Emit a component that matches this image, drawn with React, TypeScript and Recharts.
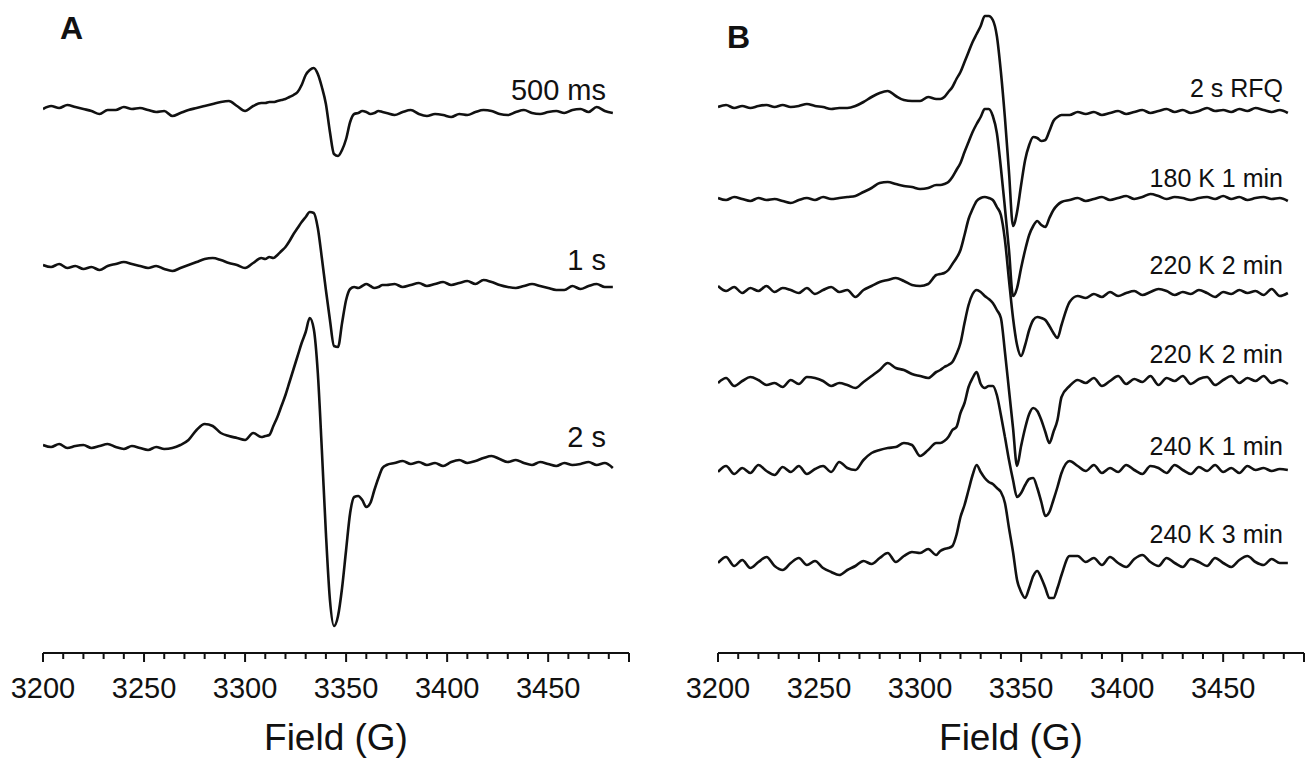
import React from "react";
import { LineChart, Line, XAxis, YAxis } from "recharts";

// field grid (G) shared by every spectrum: coarse on the wings, finer over the g~2 line
const field = [
  3200, 3204, 3208, 3212, 3216, 3220, 3224, 3228, 3232, 3236, 3240, 3244, 3248, 3252, 3256, 3260, 3264, 3268, 3272, 3276, 3280, 3284, 3288, 3292, 3296, 3300, 3304, 3308,
  3310, 3312, 3314, 3316, 3318, 3320, 3322, 3324, 3326, 3328, 3330, 3332, 3334, 3336, 3338, 3340, 3342, 3344, 3346, 3348, 3350, 3352, 3354, 3356, 3358, 3360, 3362, 3364, 3366, 3368, 3370,
  3374, 3378, 3382, 3386, 3390, 3394, 3398, 3402, 3406, 3410, 3414, 3418, 3422, 3426, 3430, 3434, 3438, 3442, 3446, 3450, 3454, 3458, 3462, 3466, 3470, 3474, 3478, 3482,
];

// panel A: RFQ quench times (derivative signal, arbitrary units)
const labelsA = ["500 ms", "1 s", "2 s"];
const specA500ms = [
  1, 4, 2, 5, 3, 1, -1, -4, 0, 0, 3, 1, 2, 0, -2, -1, -6, -3, 0, 2, 4, 6, 8, 9, 4, -1, 4, 7,
  7, 8, 8, 9, 10, 11, 13, 15, 18, 25, 35, 40, 42, 36, 23, 6, -22, -44, -46, -40, -29, -12, -4, -3, -1, -2, -4, -3, -1, -2, -3,
  -5, -2, 0, -4, -6, -4, -5, -7, -4, -5, -2, 0, -1, -4, -5, -2, 0, -3, -4, -2, -1, -3, 0, 1, -2, 3, -1, -3,
];
const specA1s = [
  1, -1, 2, -2, 0, -3, -1, -4, 0, 2, 4, 2, 0, -2, 0, -3, -5, -2, 1, 4, 7, 8, 6, 3, 1, -2, 3, 8,
  7, 9, 8, 11, 15, 19, 25, 32, 38, 44, 49, 54, 53, 38, 8, -24, -54, -80, -81, -57, -34, -23, -21, -22, -20, -18, -20, -22, -21, -19, -19,
  -18, -21, -19, -17, -20, -18, -16, -19, -17, -15, -18, -14, -16, -19, -21, -22, -20, -18, -20, -22, -24, -24, -20, -23, -20, -18, -21, -21,
];
const specA2s = [
  1, -1, 2, -2, 0, 1, -2, 0, 2, -1, -3, 0, -2, -4, -1, -3, -2, 1, 6, 16, 22, 20, 13, 10, 8, 6, 13, 9,
  10, 11, 20, 29, 40, 51, 64, 77, 90, 103, 114, 128, 117, 73, -4, -87, -154, -180, -170, -142, -104, -67, -51, -50, -54, -61, -57, -44, -32, -22, -19,
  -17, -15, -18, -16, -19, -17, -20, -16, -14, -17, -15, -12, -10, -13, -16, -14, -17, -19, -16, -18, -20, -17, -19, -18, -16, -19, -17, -22,
];
const offsetsA = [543, 387, 207];

// panel B: 2 s RFQ sample annealed
const labelsB = ["2 s RFQ", "180 K 1 min", "220 K 2 min", "220 K 2 min", "240 K 1 min", "240 K 3 min"];
const specB2sRfq = [
  0, 2, -1, 1, -1, 1, 2, 0, 2, 0, 1, 3, 1, 0, -2, -1, -1, 1, 5, 10, 14, 16, 11, 7, 6, 6, 10, 8,
  8, 10, 15, 20, 28, 35, 45, 55, 65, 73, 81, 91, 91, 87, 71, 35, -11, -65, -119, -105, -78, -53, -38, -30, -31, -34, -33, -24, -14, -10, -8,
  -8, -5, -7, -5, -8, -6, -4, -7, -5, -3, -6, -4, -2, -5, -3, -6, -4, -1, -4, -3, -5, -2, -4, -1, -3, -5, -3, -6,
];
const specB180K1 = [
  1, -1, 2, 0, -2, 1, -1, 0, -2, -4, -1, 1, -1, 2, 0, 1, 2, 3, 7, 11, 16, 17, 15, 13, 12, 10, 11, 14,
  14, 15, 17, 22, 29, 36, 47, 57, 67, 75, 82, 90, 90, 83, 66, 31, -9, -51, -97, -89, -69, -51, -36, -27, -22, -26, -28, -19, -11, -6, -3,
  -1, 1, -2, 0, 2, -1, 1, 3, 0, 2, 5, 3, 0, 2, 1, -1, 1, 2, 0, 3, 0, 2, -1, 1, 2, 0, 1, -2,
];
const specB220K2a = [
  3, -2, 2, -4, 1, -2, 3, -3, 1, -1, -4, 1, -5, -1, 2, -3, -1, -8, -1, 3, 7, 9, 11, 8, 4, 3, 5, 14,
  15, 16, 19, 25, 31, 39, 54, 70, 80, 88, 91, 92, 91, 89, 82, 74, 49, 9, -29, -56, -67, -56, -41, -31, -28, -29, -31, -37, -44, -49, -36,
  -13, -7, -9, -5, -8, -3, -7, -4, -2, -6, -3, 0, -2, -6, -3, -5, -1, -4, -8, -3, -5, -1, -4, -2, -6, 0, -7, -4,
];
const specB220K2b = [
  -1, 4, -4, 1, 5, 2, -3, -1, -5, 2, -2, 5, 4, 1, -4, -1, -3, -6, 0, 6, 12, 19, 14, 12, 8, 6, 4, 10,
  12, 15, 17, 20, 28, 39, 59, 77, 88, 92, 90, 86, 83, 79, 72, 64, 30, -8, -46, -84, -64, -46, -32, -26, -29, -38, -50, -61, -50, -38, -15,
  -4, 2, -1, 4, -4, 1, 6, -2, 3, 0, 6, -3, 4, 1, 6, -2, 3, 5, -3, 2, 6, -1, 4, 1, 6, -1, 2, -2,
];
const specB240K1 = [
  -2, 4, -4, 2, -3, 5, -1, -5, 3, -2, 4, -4, 1, 4, -2, 8, 2, 0, 10, 17, 20, 22, 23, 27, 25, 14, 20, 27,
  27, 29, 33, 40, 43, 57, 67, 83, 92, 98, 86, 82, 84, 84, 75, 55, 33, 10, -10, -27, -23, -15, -9, -8, -18, -32, -46, -42, -30, -17, -3,
  9, 4, -1, 5, -3, 2, -2, 5, 0, -4, 4, 2, -3, 5, 0, -4, 3, -1, 5, -2, 2, -3, 4, 0, 2, -1, 1, 0,
];
const specB240K3 = [
  0, 6, -3, 3, -5, 1, 6, -3, -7, 0, 5, -2, 2, -5, -9, -12, -7, -3, 2, -1, 5, 10, 1, 7, 11, 10, 14, 8,
  12, 14, 15, 17, 28, 46, 58, 73, 88, 98, 91, 85, 81, 79, 75, 71, 60, 35, 11, -17, -29, -35, -25, -13, -8, -15, -25, -35, -35, -25, -12,
  7, 7, 1, 5, -2, 6, 0, -4, 4, 8, 1, -3, 5, 0, -4, 4, 1, -3, 5, 0, -4, 3, 7, 1, -2, 4, 0, 0,
];
const offsetsB = [546, 454, 364, 271, 183, 90];

// axis
const fieldTicks = [
  3200, 3210, 3220, 3230, 3240, 3250, 3260, 3270, 3280, 3290, 3300, 3310, 3320, 3330, 3340,
  3350, 3360, 3370, 3380, 3390, 3400, 3410, 3420, 3430, 3440, 3450, 3460, 3470, 3480, 3490,
];
const fieldTickLabels = [3200, 3250, 3300, 3350, 3400, 3450];

const FONT = "'Liberation Sans', Arial, Helvetica, sans-serif";
const INK = "#111";
const H = 758;
const AXIS_H = 105;
const Y_MAX = H - AXIS_H; // 1 unit per px in the plot

function buildRows(series: number[][], offsets: number[]) {
  return field.map((f, i) => {
    const row: Record<string, number> = { field: f };
    series.forEach((s, k) => {
      row["s" + k] = offsets[k] + s[i];
    });
    return row;
  });
}

function FieldTick(props: any) {
  const { x, y, payload } = props;
  const v = payload.value as number;
  const major = v % 50 === 0 || v === 3490;
  return (
    <g>
      <line x1={x} y1={y} x2={x} y2={y + (major ? 9 : 6)} stroke={INK} strokeWidth={2} />
      {fieldTickLabels.includes(v) && (
        <text x={x} y={y + 45} textAnchor="middle" fontSize={29} fill={INK} fontFamily={FONT}>
          {v}
        </text>
      )}
    </g>
  );
}

function Panel({
  left,
  width,
  margin,
  series,
  offsets,
}: {
  left: number;
  width: number;
  margin: { left: number; right: number };
  series: number[][];
  offsets: number[];
}) {
  const rows = buildRows(series, offsets);
  return (
    <div style={{ position: "absolute", left, top: 0 }}>
      <LineChart
        width={width}
        height={H}
        data={rows}
        margin={{ top: 0, bottom: 0, left: margin.left, right: margin.right }}
      >
        <XAxis
          dataKey="field"
          type="number"
          domain={[3200, 3490]}
          ticks={fieldTicks}
          interval={0}
          allowDataOverflow
          height={AXIS_H}
          tickSize={0}
          tickMargin={0}
          tickLine={false}
          axisLine={{ stroke: INK, strokeWidth: 2 }}
          tick={(p: any) => <FieldTick {...p} />}
          label={{
            value: "Field (G)",
            position: "insideBottom",
            offset: 8,
            fontSize: 37,
            fill: INK,
            fontFamily: FONT,
          }}
        />
        <YAxis hide width={0} type="number" domain={[0, Y_MAX]} allowDataOverflow />
        {series.map((_, k) => (
          <Line
            key={k}
            dataKey={"s" + k}
            type="monotone"
            stroke={INK}
            strokeWidth={2.6}
            dot={false}
            activeDot={false}
            isAnimationActive={false}
          />
        ))}
      </LineChart>
    </div>
  );
}

const labelYA = [100, 270, 447];
const labelYB = [97, 187, 274, 363, 455, 543];

export default function App() {
  return (
    <div
      style={{
        position: "absolute",
        left: 0,
        top: 0,
        width: 1311,
        height: H,
        background: "#fff",
        fontFamily: FONT,
      }}
    >
      <Panel
        left={0}
        width={660}
        margin={{ left: 43, right: 31 }}
        series={[specA500ms, specA1s, specA2s]}
        offsets={offsetsA}
      />
      <Panel
        left={660}
        width={651}
        margin={{ left: 58, right: 7 }}
        series={[specB2sRfq, specB180K1, specB220K2a, specB220K2b, specB240K1, specB240K3]}
        offsets={offsetsB}
      />
      <svg
        width={1311}
        height={H}
        style={{ position: "absolute", left: 0, top: 0, pointerEvents: "none" }}
        fontFamily={FONT}
      >
        <text x={60} y={39} fontSize={32} fontWeight="bold" fill={INK}>
          A
        </text>
        <text x={727} y={48} fontSize={32} fontWeight="bold" fill={INK}>
          B
        </text>
        {labelsA.map((t, i) => (
          <text key={"a" + i} x={606} y={labelYA[i]} textAnchor="end" fontSize={29} fill={INK}>
            {t}
          </text>
        ))}
        {labelsB.map((t, i) => (
          <text key={"b" + i} x={1283} y={labelYB[i]} textAnchor="end" fontSize={25} fill={INK}>
            {t}
          </text>
        ))}
      </svg>
    </div>
  );
}
